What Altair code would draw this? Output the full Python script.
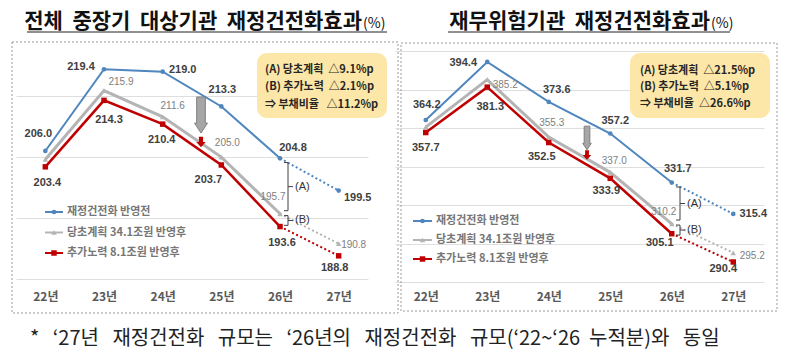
import altair as alt
import pandas as pd

# ---------------- data ----------------
years = ["22년", "23년", "24년", "25년", "26년", "27년"]
series_names = ["재정건전화 반영전", "당초계획 34.1조원 반영후", "추가노력 8.1조원 반영후"]

left_before = [206.0, 219.4, 219.0, 213.3, 204.8, 199.5]
left_plan = [204.6, 215.9, 211.6, 205.0, 195.7, 190.8]
left_extra = [203.4, 214.3, 210.4, 203.7, 193.6, 188.8]

right_before = [364.2, 394.4, 373.6, 357.2, 331.7, 315.4]
right_plan = [360.5, 385.2, 355.3, 337.0, 310.2, 295.2]
right_extra = [357.7, 381.3, 352.5, 333.9, 305.1, 290.4]

NB = "\u00a0"
left_title = f"전체{NB} 중장기{NB} 대상기관{NB} 재정건전화효과"
right_title = f"재무위험기관{NB} 재정건전화효과"
unit_text = "(%)"
left_box = [f"(A) 당초계획{NB} △9.1%p", f"(B) 추가노력{NB} △2.1%p", f"⇒ 부채비율{NB}{NB} △11.2%p"]
right_box = [f"(A) 당초계획{NB} △21.5%p", f"(B) 추가노력{NB} △5.1%p", f"⇒ 부채비율{NB} △26.6%p"]
bracket_labels = ["(A)", "(B)"]
G = NB + NB
footnote = (f"*{G} ‘27년{G} 재정건전화{G} 규모는{G} ‘26년의{G} 재정건전화{G} "
            f"규모(‘22~‘26{NB} 누적분)와{G} 동일")

# ---------------- style ----------------
KFONT = "Noto Sans CJK KR"
NFONT = "Liberation Sans"
colors = ["#4f86bd", "#b4b4b4", "#c00000"]
widths = [2, 3, 2.5]
shapes = ["circle", "triangle-up", "square"]
sizes = [22, 30, 30]

left_offsets = [
    [(-7, -17), (-23, -2), (20, -2), (1, -16), (13, -10), (19, 7)],
    [None, (17, -9), (10, -11), (6, -14), (-7, -17), (15, 1)],
    [(2, 16), (5, 20), (-1, 16), (-13, 15), (2, 16), (-4, 12)],
]
right_offsets = [
    [(1, -15), (-24, 1), (8, -12), (5, -12), (6, -14), (20, 0)],
    [None, (18, 5), (3, -14), (4, -11), (-8, -12), (19, 3)],
    [(0, 15), (3, 20), (-7, 14), (-4, 13), (-12, 9), (-10, 7)],
]

ARROW_GRAY = "M-0.24,-1 L0.24,-1 L0.24,0.45 L0.36,0.45 L0,1 L-0.36,0.45 L-0.24,0.45 Z"
ARROW_RED = "M-0.4,-1 L0.4,-1 L0.4,0 L0.9,0 L0,1 L-0.9,0 L-0.4,0 Z"


def make_df(vals, offsets):
    rows = []
    for s, (arr, offs) in enumerate(zip(vals, offsets)):
        for i, (y, v) in enumerate(zip(years, arr)):
            o = offs[i]
            rows.append(dict(series=series_names[s], s=s, year=y, idx=i, value=v,
                             label=("" if o is None else f"{v:.1f}"),
                             dx=(0 if o is None else o[0]),
                             dy=(0 if o is None else o[1])))
    return pd.DataFrame(rows)


def panel(vals, offsets, W, H, domain, grid_vals, label_pad, g):
    df = make_df(vals, offsets)
    base = alt.Chart(df)
    one = alt.Chart(pd.DataFrame({"k": [0]}))
    X = alt.X("year:O", sort=years, scale=alt.Scale(type="point", padding=0.5),
              axis=alt.Axis(title=None, domain=False, ticks=False, labelAngle=0,
                            labelFont=KFONT, labelFontSize=12, labelFontWeight="bold",
                            labelColor="#595959", labelPadding=label_pad, grid=False))
    Y = alt.Y("value:Q", scale=alt.Scale(domain=domain, nice=False, zero=False),
              axis=alt.Axis(title=None, values=grid_vals, labels=False, ticks=False,
                            domain=False, grid=True, gridColor="#dedede", gridWidth=1))
    layers = []
    if g.get("anchor"):
        layers.append(one.mark_rect(fill="white").encode(
            x=alt.value(-8), x2=alt.value(-7), y=alt.value(-32), y2=alt.value(-31)))
        layers.append(one.mark_rect(fill="white").encode(
            x=alt.value(-8), x2=alt.value(-7), y=alt.value(318), y2=alt.value(319)))
    bx0, bx1, by0, by1 = g["border"]
    layers.append(one.mark_rect(fill="transparent", stroke="#9a9a9a", strokeWidth=1,
                                strokeDash=[2, 2]).encode(
        x=alt.value(bx0), x2=alt.value(bx1), y=alt.value(by0), y2=alt.value(by1)))
    # annotation box
    ax0, ax1, ay0, ay1 = g["box"]
    layers.append(one.mark_rect(fill="#fde7a8", cornerRadius=10).encode(
        x=alt.value(ax0), x2=alt.value(ax1), y=alt.value(ay0), y2=alt.value(ay1)))
    for i, line in enumerate(g["box_lines"]):
        layers.append(one.mark_text(text=line, font=KFONT, fontSize=11, fontWeight="bold",
                                    color="#262626", align="left", baseline="middle").encode(
            x=alt.value(g["box_tx"]), y=alt.value(g["box_ty"][i])))
    # lines & points
    for s in [1, 0, 2]:
        c = colors[s]
        layers.append(base.transform_filter((alt.datum.s == s) & (alt.datum.idx <= 4))
                      .mark_line(color=c, strokeWidth=widths[s]).encode(x=X, y=Y))
        layers.append(base.transform_filter((alt.datum.s == s) & (alt.datum.idx >= 4))
                      .mark_line(color=c, strokeWidth=2, strokeDash=[2, 2.5]).encode(x=X, y=Y))
        layers.append(base.transform_filter(alt.datum.s == s)
                      .mark_point(shape=shapes[s], filled=True, color=c, size=sizes[s], opacity=1)
                      .encode(x=X, y=Y))
    # value labels (one layer per label so each gets its own offset)
    for r in df.itertuples():
        if not r.label:
            continue
        if r.s == 1:
            style = dict(font=NFONT, fontSize=10, color="#808080")
        else:
            style = dict(font=NFONT, fontSize=11, fontWeight="bold", color="#404040")
        layers.append(base.transform_filter((alt.datum.s == r.s) & (alt.datum.idx == r.idx))
                      .mark_text(dx=r.dx, dy=r.dy, baseline="middle", **style)
                      .encode(x=X, y=Y, text="label:N"))
    # arrows
    gx, gy, gs = g["arrow_gray"]
    layers.append(one.mark_point(shape=ARROW_GRAY, filled=True, fill="#a6a6a6", stroke="#7f7f7f",
                                 strokeWidth=1, size=gs, opacity=1).encode(
        x=alt.value(gx), y=alt.value(gy)))
    rx, ry, rs = g["arrow_red"]
    layers.append(one.mark_point(shape=ARROW_RED, filled=True, fill="#c00000", size=rs,
                                 opacity=1).encode(x=alt.value(rx), y=alt.value(ry)))
    # brackets
    for (v1, v2), lab in zip(g["brackets"], bracket_labels):
        bxp = g["bracket_x"]
        mid = (v1 + v2) / 2
        layers.append(one.mark_rule(color="#404040", strokeWidth=1).encode(
            x=alt.value(bxp), y=alt.datum(v1), y2=alt.datum(v2)))
        for v in (v1, v2):
            layers.append(one.mark_rule(color="#404040", strokeWidth=1).encode(
                x=alt.value(bxp - 4), x2=alt.value(bxp), y=alt.datum(v)))
        layers.append(one.mark_rule(color="#404040", strokeWidth=1).encode(
            x=alt.value(bxp), x2=alt.value(bxp + 5), y=alt.datum(mid)))
        layers.append(one.mark_text(text=lab, font=NFONT, fontSize=11, color="#333333",
                                    align="left", baseline="middle").encode(
            x=alt.value(bxp + 7), y=alt.datum(mid)))
    # legend
    lx0, lx1, ly0, lstep = g["legend"]
    for s in range(3):
        yy = ly0 + s * lstep
        layers.append(one.mark_rule(color=colors[s], strokeWidth=2).encode(
            x=alt.value(lx0), x2=alt.value(lx1), y=alt.value(yy)))
        layers.append(one.mark_point(shape=shapes[s], filled=True, color=colors[s],
                                     size=sizes[s], opacity=1).encode(
            x=alt.value((lx0 + lx1) / 2), y=alt.value(yy)))
        layers.append(one.mark_text(text=series_names[s], font=KFONT, fontSize=11,
                                    fontWeight="bold", color="#767676", align="left",
                                    baseline="middle").encode(
            x=alt.value(lx1 + 4), y=alt.value(yy)))
    # title
    tx, ty, ux0, ux1, uy = g["title"]
    layers.append(one.mark_text(text=g["title_text"], font=KFONT, fontSize=21, fontWeight="bold",
                                color="#111111", align="right", baseline="middle").encode(
        x=alt.value(tx), y=alt.value(ty)))
    layers.append(one.mark_text(text=unit_text, font=KFONT, fontSize=14, color="#111111",
                                align="left", baseline="middle").encode(
        x=alt.value(tx + 1), y=alt.value(ty + 2)))
    layers.append(one.mark_rule(color="#222222", strokeWidth=1).encode(
        x=alt.value(ux0), x2=alt.value(ux1), y=alt.value(uy)))
    if g.get("footnote"):
        layers.append(one.mark_text(text=footnote, font=KFONT, fontSize=20, color="#222222",
                                    align="left", baseline="middle").encode(
            x=alt.value(14), y=alt.value(299)))
    return alt.layer(*layers).properties(width=W, height=H)


left_geom = dict(
    anchor=True, footnote=True,
    border=(-4, 382, 2, 273),
    box=(241, 371, 13, 78), box_lines=left_box, box_tx=249, box_ty=[30, 47, 65],
    arrow_gray=(185, 75, 1300), arrow_red=(185, 102, 110),
    brackets=[(left_before[4] - 0.7, left_plan[4] + 0.5), (left_plan[4] - 0.3, left_extra[4] + 0.2)],
    bracket_x=272,
    legend=(29, 47, 172, 20.5),
    title=(346, -18, 11, 371, -8), title_text=left_title,
)
right_geom = dict(
    border=(6, 382, 3, 271),
    box=(235, 375, 13, 78), box_lines=right_box, box_tx=245, box_ty=[31, 47, 64],
    arrow_gray=(192, 98, 560), arrow_red=(192, 115, 90),
    brackets=[(right_before[4] - 2.3, right_plan[4] + 2.0), (right_plan[4] - 0.6, right_extra[4] - 0.7)],
    bracket_x=285,
    legend=(18, 37, 181, 19),
    title=(315, -18, 53, 335, -8), title_text=right_title,
)

left = panel([left_before, left_plan, left_extra], left_offsets, 352, 239,
             [185, 224.2], [185, 195, 205, 215], 12, left_geom)
right = panel([right_before, right_plan, right_extra], right_offsets, 369, 242,
              [280, 405.8], [280, 300, 320, 340, 360, 380, 400], 9, right_geom)

chart = alt.hconcat(left, right, spacing=27, bounds="flush", padding=0).configure_view(strokeWidth=0)
chart.save("out.html", embed_options={"renderer": "svg", "actions": False})
